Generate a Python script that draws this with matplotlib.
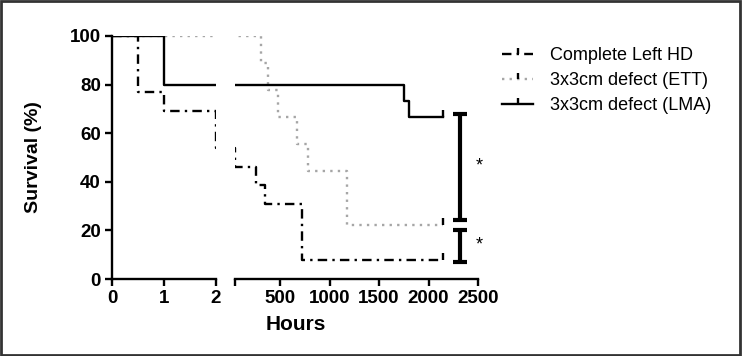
import matplotlib
matplotlib.use('Agg')
import matplotlib.pyplot as plt
from matplotlib.lines import Line2D
from matplotlib.patches import Rectangle

plt.rcParams['font.family'] = ['Liberation Sans', 'DejaVu Sans']

# Kaplan-Meier step data (hours, survival %)
hd_hours = [0, 0.5, 1, 2, 50, 258, 350, 720, 2150]
hd_surv = [100, 76.9, 69.2, 53.8, 46.2, 38.5, 30.8, 7.7, 7.7]

ett_hours = [0, 310, 380, 480, 670, 780, 1180, 2150]
ett_surv = [100, 88.9, 77.8, 66.7, 55.6, 44.4, 22.2, 22.2]

lma_hours = [0, 1, 1750, 1800, 2150]
lma_surv = [100, 80, 73.3, 66.7, 66.7]

labels = ['Complete Left HD', '3x3cm defect (ETT)', '3x3cm defect (LMA)']

# significance brackets (survival % range) and stars
brackets = [(24.3, 67.9), (7.0, 20.2)]
star_y = [46.5, 14.0]

left_ticks = [0, 1, 2]
right_ticks = [45, 500, 1000, 1500, 2000, 2500]
right_ticklabels = ['', '500', '1000', '1500', '2000', '2500']
y_ticks = [0, 20, 40, 60, 80, 100]

W, H = 742, 356
fig = plt.figure(figsize=(W / 100, H / 100), dpi=100)

def frac(x0, x1, ytop, ybot):
    return [x0 / W, 1 - ybot / H, (x1 - x0) / W, (ybot - ytop) / H]

ax1 = fig.add_axes(frac(112, 216, 36, 279))
ax2 = fig.add_axes(frac(235, 478, 36, 279))

styles = [
    dict(color='black', lw=1.7, dashes=(4, 2.2, 1, 2.2)),
    dict(color='#a6a6a6', lw=1.7, dashes=(1, 2.2)),
    dict(color='black', lw=1.7, linestyle='-'),
]
series = [(hd_hours, hd_surv), (ett_hours, ett_surv), (lma_hours, lma_surv)]

for ax in (ax1, ax2):
    for (t, s), st in zip(series, styles):
        ax.step(t, s, where='post', **st)
        ax.plot(t[-1], s[-1], marker=2, color='black', markersize=5, mew=1.7)
    ax.set_ylim(0, 100)
    for sp in ['top', 'right']:
        ax.spines[sp].set_visible(False)
    ax.spines['bottom'].set_linewidth(1.7)
    ax.spines['left'].set_linewidth(1.7)
    ax.tick_params(width=1.7, length=5, labelsize=13.5, pad=3)

ax1.set_xlim(0, 2)
ax1.set_xticks(left_ticks)
ax1.set_xticklabels([str(v) for v in left_ticks], fontweight='bold')
ax1.set_yticks(y_ticks)
ax1.set_yticklabels([str(v) for v in y_ticks], fontweight='bold')
ax1.set_ylabel('Survival (%)', fontsize=14, fontweight='bold', labelpad=20)

ax2.set_xlim(45, 2500)
ax2.set_xticks(right_ticks)
ax2.set_xticklabels(right_ticklabels, fontweight='bold')
ax2.spines['left'].set_visible(False)
ax2.set_yticks([])

fig.text(296 / W, 1 - 325 / H, 'Hours', fontsize=15, fontweight='bold',
         ha='center', va='center')

# significance brackets
for (lo, hi), sy in zip(brackets, star_y):
    ax2.plot([2315, 2315], [lo, hi], color='black', lw=3, clip_on=False,
             solid_capstyle='butt')
    for yy in (lo, hi):
        ax2.plot([2244, 2385], [yy, yy], color='black', lw=3, clip_on=False,
                 solid_capstyle='butt')
    ax2.text(2515, sy, '*', fontsize=13, ha='center', va='center', clip_on=False)

handles = [Line2D([], [], marker=2, markersize=4, mew=1.7, markeredgecolor='black', **st)
           for st in styles]
fig.legend(handles, labels, loc='upper left', bbox_to_anchor=(495 / W, 1 - 40 / H),
           frameon=False, fontsize=13, handlelength=1.7, handletextpad=0.95,
           labelspacing=0.45, numpoints=1, borderaxespad=0)

fig.patches.append(Rectangle((0.0015, 0.003), 0.996, 0.993, transform=fig.transFigure,
                             fill=False, edgecolor='#333333', lw=2))

fig.savefig('out.png', dpi=100)
